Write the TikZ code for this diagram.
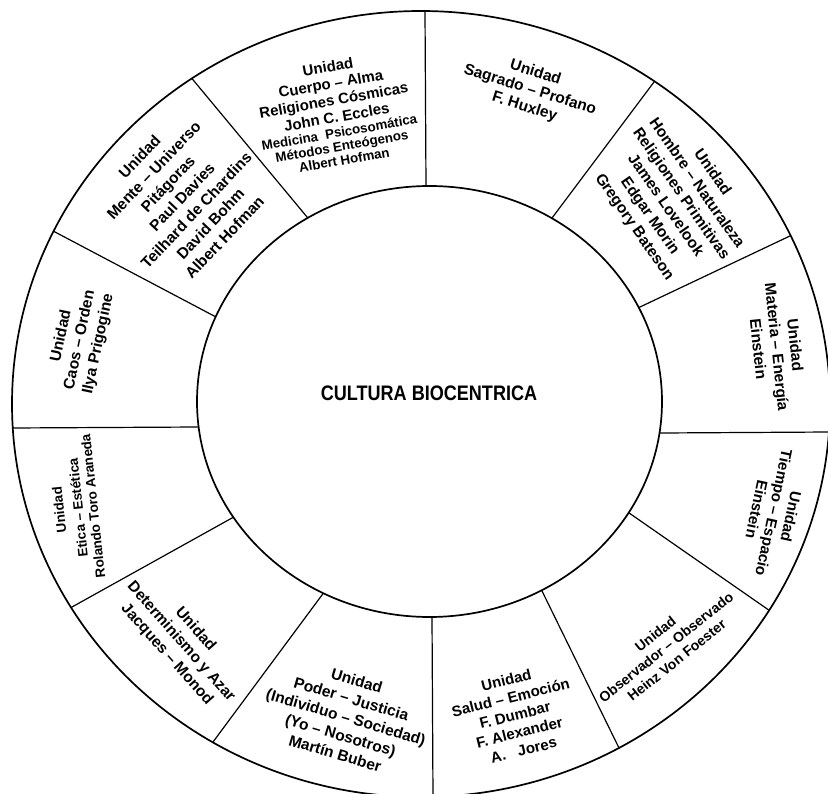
\documentclass[tikz,border=0pt]{standalone}
\usepackage{fontspec}
\setmainfont{Liberation Sans}
\usepackage{graphicx}
\usetikzlibrary{calc}
\newcommand\fsz[2]{\fontsize{#1}{#2}\selectfont}
\tikzset{
  seg/.style={align=center, inner sep=0pt},
  ring/.style={line width=1.7pt},
  spoke/.style={line width=1.2pt}
}
\begin{document}
\begin{tikzpicture}[x=1pt,y=-1pt]
\useasboundingbox (0,0) rectangle (828,794);
\fill[white] (0,0) rectangle (828,794);
\clip (0,0) rectangle (828,794);
% spoke end points (inner, outer)
\coordinate (i1) at (426,186);  \coordinate (o1) at (425,11);
\coordinate (i2) at (552,218);  \coordinate (o2) at (657,78);
\coordinate (i3) at (640,307);  \coordinate (o3) at (792,235);
\coordinate (i4) at (662,433);  \coordinate (o4) at (830,432);
\coordinate (i5) at (632,515);  \coordinate (o5) at (773,613);
\coordinate (i6) at (542,591);  \coordinate (o6) at (620,750);
\coordinate (i7) at (432,617);  \coordinate (o7) at (433,797);
\coordinate (i8) at (322,595);  \coordinate (o8) at (213,742);
\coordinate (i9) at (232,518);  \coordinate (o9) at (72,607);
\coordinate (i10) at (199,427); \coordinate (o10) at (12,428);
\coordinate (i11) at (216,317); \coordinate (o11) at (55,232);
\coordinate (i12) at (307,217); \coordinate (o12) at (194,81);
\begin{scope}
  \clip (421,404) ellipse [x radius=409pt, y radius=393pt];
  \foreach \k in {1,...,12}{
    \draw[spoke] ($(i\k)!-0.15!(o\k)$) -- ($(i\k)!1.15!(o\k)$);
  }
\end{scope}
\fill[white] (429.5,401.5) ellipse [x radius=232.5pt, y radius=215.5pt];
\draw[ring] (429.5,401.5) ellipse [x radius=232.5pt, y radius=215.5pt];
\draw[ring] (421,404) ellipse [x radius=409pt, y radius=393pt];
% center title
\node[seg, font={\bfseries\fsz{21}{24}}] (title) at (429,393) {\scalebox{0.86}[1]{CULTURA BIOCENTRICA}};
% segment texts
\node[seg, rotate=10, font={\bfseries\fsz{15}{17}}] (tA) at (336,113)
  {Unidad\\Cuerpo – Alma\\Religiones Cósmicas\\John C. Eccles\\[-2pt]
   \fsz{13.3}{14}Medicina\ \ Psicosomática\\[-3pt]\fsz{13.3}{14}Métodos Enteógenos\\[-3pt]\fsz{13.3}{14}Albert Hofman};
\node[seg, rotate=-17.5, font={\bfseries\fsz{15.5}{18}}] (tB) at (530,90)
  {Unidad\\Sagrado – Profano\\F. Huxley};
\node[seg, rotate=-55, font={\bfseries\fsz{15.5}{19}}] (tC) at (673,200)
  {Unidad\\Hombre – Naturaleza\\Religiones Primitivas\\James Lovelook\\Edgar Morin\\Gregory Bateson};
\node[seg, rotate=-84, font={\bfseries\fsz{15.5}{18.5}}] (tD) at (777,347)
  {Unidad\\Materia – Energía\\Einstein};
\node[seg, rotate=-102, font={\bfseries\fsz{15.2}{17.5}}] (tE) at (774,513)
  {Unidad\\Tiempo – Espacio\\Einstein};
\node[seg, rotate=38.6, font={\bfseries\fsz{14}{17}}] (tF) at (666,647)
  {Unidad\\Observador – Observado\\Heinz Von Foester};
\node[seg, rotate=14, font={\bfseries\fsz{15}{18}}] (tG) at (515,715)
  {Unidad\\Salud – Emoción\\F. Dumbar\\F. Alexander\\A.\ \ \ Jores};
\node[seg, rotate=-16.6, font={\bfseries\fsz{15.5}{19}}] (tH) at (346,717)
  {Unidad\\Poder – Justicia\\(Individuo – Sociedad)\\(Yo – Nosotros)\\Martín Buber};
\node[seg, rotate=-48.5, font={\bfseries\fsz{15.5}{19}}] (tI) at (181,642)
  {Unidad\\Determinismo y Azar\\Jacques – Monod};
\node[seg, rotate=96, font={\bfseries\fsz{13.5}{15}}] (tJ) at (76,508)
  {Unidad\\[4pt]Etica – Estética\\Rolando Toro Araneda};
\node[seg, rotate=78, font={\bfseries\fsz{15.5}{19}}] (tK) at (80,340)
  {Unidad\\Caos – Orden\\Ilya Prigogine};
\node[seg, rotate=46.6, font={\bfseries\fsz{15.5}{19.5}}] (tL) at (182,197)
  {Unidad\\Mente – Universo\\Pitágoras\\Paul Davies\\Teilhard de Chardins\\David Bohm\\Albert Hofman};
\end{tikzpicture}
\end{document}
